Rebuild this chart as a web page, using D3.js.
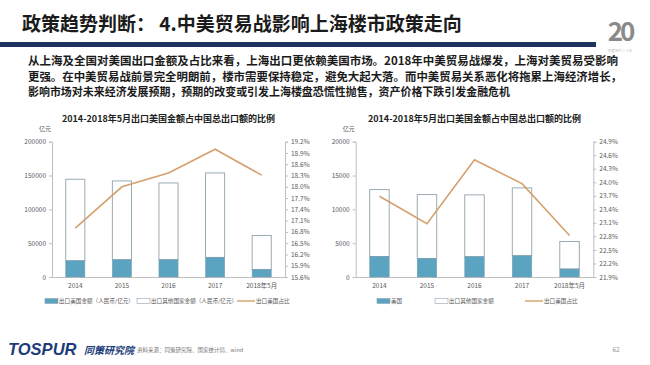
<!DOCTYPE html>
<html>
<head>
<meta charset="utf-8">
<script src="https://cdn.jsdelivr.net/npm/d3@7"></script>
<style>
  body { margin: 0; background: #fff; }
  svg { display: block; font-family: "Noto Sans CJK SC", "Noto Sans", sans-serif; }
</style>
</head>
<body>
<svg id="chart" width="650" height="365"></svg>
<script>
// ---- data
let years = ['2014', '2015', '2016', '2017', '2018年5月']

// 全国 (人民币/亿元)
let cnUS = [24000, 25500, 25500, 29000, 11200]
let cnOther = [120500, 116500, 113500, 124800, 50200]
let cnShare = [16.9, 18.0, 18.37, 19.0, 18.31]
let cnLeftTicks = [0, 50000, 100000, 150000, 200000]
let cnRightTicks = [15.6, 15.9, 16.2, 16.5, 16.8, 17.1, 17.4, 17.7, 18.0, 18.3, 18.6, 18.9, 19.2]

// 上海
let shUS = [3040, 2750, 3000, 3140, 1180]
let shOther = [9880, 9430, 9140, 10030, 4070]
let shShare = [23.69, 23.08, 24.5, 23.97, 22.82]
let shLeftTicks = [0, 5000, 10000, 15000, 20000]
let shRightTicks = [21.9, 22.2, 22.5, 22.8, 23.1, 23.4, 23.7, 24.0, 24.3, 24.6, 24.9]

let textLines = [
	'从上海及全国对美国出口金额及占比来看，上海出口更依赖美国市场。2018年中美贸易战爆发，上海对美贸易受影响',
	'更强。在中美贸易战前景完全明朗前，楼市需要保持稳定，避免大起大落。而中美贸易关系恶化将拖累上海经济增长，',
	'影响市场对未来经济发展预期，预期的改变或引发上海楼盘恐慌性抛售，资产价格下跌引发金融危机'
]
let textWidths = [590, 594, 482]

let svg = d3.select('#chart')

const teal = '#5ba4c1'
const lineCol = '#d5a06e'
const grey = '#595959'

//   ----   header

svg.append('text')
	.attr('x', 22).attr('y', 31)
	.attr('font-size', 19).attr('font-weight', 'bold')
	.attr('fill', '#1b1b1b')
	.text('政策趋势判断： 4.中美贸易战影响上海楼市政策走向')

svg.append('rect')
	.attr('x', 0).attr('y', 42).attr('width', 596).attr('height', 5)
	.attr('fill', '#1d3461')

// logo "20"
svg.append('text')
	.attr('x', 620).attr('y', 41)
	.attr('text-anchor', 'middle')
	.attr('font-size', 26).attr('font-weight', 'bold')
	.attr('fill', '#8a8a8a')
	.attr('letter-spacing', -3)
	.text('20')
svg.append('text')
	.attr('x', 620).attr('y', 51.5)
	.attr('text-anchor', 'middle')
	.attr('font-size', 3.5).attr('fill', '#bbb')
	.text('同策地产二十年')

svg.selectAll('.para').data(textLines).enter().append('text')
	.attr('class', 'para')
	.attr('x', 28)
	.attr('y', (d, i) => 65 + i * 15.5)
	.attr('font-size', 11.5).attr('font-weight', 'bold')
	.attr('fill', '#1b1b1b')
	.attr('textLength', (d, i) => textWidths[i])
	.attr('lengthAdjust', 'spacingAndGlyphs')
	.text(d => d)

//   ----   charts

function drawChart(cfg) {
	let xScale = d3.scaleBand()
		.domain(years)
		.range([cfg.x0, cfg.x1])
		.paddingInner(0.59)
		.paddingOuter(0.295)

	let yL = d3.scaleLinear()
		.domain([cfg.leftTicks[0], cfg.leftTicks[cfg.leftTicks.length - 1]])
		.range([277, 141.7])

	let yR = d3.scaleLinear()
		.domain([cfg.rightTicks[0], cfg.rightTicks[cfg.rightTicks.length - 1]])
		.range([277, 141.7])

	let g = svg.append('g')

	g.append('text')
		.attr('x', (cfg.x0 + cfg.x1) / 2).attr('y', 122)
		.attr('text-anchor', 'middle')
		.attr('font-size', 9).attr('font-weight', 'bold')
		.attr('fill', '#222')
		.text('2014-2018年5月出口美国金额占中国总出口额的比例')

	g.append('text')
		.attr('x', cfg.x0 - 7).attr('y', 131)
		.attr('text-anchor', 'middle')
		.attr('font-size', 6).attr('fill', grey)
		.text('亿元')

	// axes
	let axL = g.append('g')
		.attr('transform', `translate(${cfg.x0},0)`)
		.call(d3.axisLeft(yL).tickValues(cfg.leftTicks).tickSize(3).tickFormat(d3.format('d')))
	let axR = g.append('g')
		.attr('transform', `translate(${cfg.x1},0)`)
		.call(d3.axisRight(yR).tickValues(cfg.rightTicks).tickSize(3).tickFormat(d => d.toFixed(1) + '%'))
	let axB = g.append('g')
		.attr('transform', 'translate(0,277)')
		.call(d3.axisBottom(xScale).tickSize(0).tickPadding(6))

	;[axL, axR, axB].forEach(a => {
		a.selectAll('path,line').attr('stroke', '#bfbfbf')
		a.selectAll('text').attr('fill', grey).attr('font-size', 6.5)
			.attr('font-family', '"Noto Sans CJK SC", sans-serif')
	})

	// bars
	let stack = years.map((y, i) => ({ year: y, us: cfg.us[i], other: cfg.other[i] }))

	g.selectAll('.other').data(stack).enter().append('rect')
		.attr('x', d => xScale(d.year))
		.attr('width', xScale.bandwidth())
		.attr('y', d => yL(d.us + d.other))
		.attr('height', d => yL(d.us) - yL(d.us + d.other))
		.attr('fill', '#fff')
		.attr('stroke', '#8fa3aa').attr('stroke-width', 0.9)

	g.selectAll('.us').data(stack).enter().append('rect')
		.attr('x', d => xScale(d.year))
		.attr('width', xScale.bandwidth())
		.attr('y', d => yL(d.us))
		.attr('height', d => yL(0) - yL(d.us))
		.attr('fill', teal)
		.attr('stroke', '#7f9fab').attr('stroke-width', 0.6)

	let lineGen = d3.line()
		.x((d, i) => xScale(years[i]) + xScale.bandwidth() / 2)
		.y(d => yR(d))

	g.append('path')
		.datum(cfg.share)
		.attr('d', lineGen)
		.attr('fill', 'none')
		.attr('stroke', lineCol).attr('stroke-width', 1.6)

	// legend
	let leg = g.append('g').attr('font-size', 5.6).attr('fill', grey)
	cfg.legend.forEach(l => {
		if (l.type == 'line') {
			leg.append('line')
				.attr('x1', l.x).attr('x2', l.x + 18)
				.attr('y1', 301).attr('y2', 301)
				.attr('stroke', lineCol).attr('stroke-width', 1.4)
		} else {
			leg.append('rect')
				.attr('x', l.x).attr('y', 298.5).attr('width', 13).attr('height', 5)
				.attr('fill', l.type == 'us' ? teal : '#fff')
				.attr('stroke', '#8fa3aa').attr('stroke-width', 0.6)
		}
		leg.append('text')
			.attr('x', l.x + (l.type == 'line' ? 19 : 14)).attr('y', 303)
			.text(l.label)
	})
}

drawChart({
	x0: 52, x1: 285,
	us: cnUS, other: cnOther, share: cnShare,
	leftTicks: cnLeftTicks, rightTicks: cnRightTicks,
	legend: [
		{ type: 'us', x: 45, label: '出口美国金额（人民币/亿元）' },
		{ type: 'other', x: 137, label: '出口其他国家金额（人民币/亿元）' },
		{ type: 'line', x: 237, label: '出口美国占比' }
	]
})

drawChart({
	x0: 355.7, x1: 593.3,
	us: shUS, other: shOther, share: shShare,
	leftTicks: shLeftTicks, rightTicks: shRightTicks,
	legend: [
		{ type: 'us', x: 377, label: '美国' },
		{ type: 'other', x: 435, label: '出口其他国家金额' },
		{ type: 'line', x: 525, label: '出口美国占比' }
	]
})

//   ----   footer

svg.append('text')
	.attr('x', 8).attr('y', 355)
	.attr('font-size', 16.5).attr('font-weight', 'bold').attr('font-style', 'italic')
	.attr('fill', '#1d3d7a')
	.attr('font-family', '"Liberation Sans", Arial, sans-serif')
	.text('TOSPUR')
svg.append('text')
	.attr('x', 84).attr('y', 354)
	.attr('font-size', 10).attr('font-weight', 'bold').attr('font-style', 'italic')
	.attr('fill', '#1d3d7a')
	.text('同策研究院')
svg.append('text')
	.attr('x', 137).attr('y', 352)
	.attr('font-size', 5.5).attr('fill', '#777')
	.text('资料来源：同策研究院、国家统计局、wind')
svg.append('text')
	.attr('x', 616).attr('y', 352)
	.attr('text-anchor', 'middle')
	.attr('font-size', 6.5).attr('fill', '#999')
	.text('62')
</script>
</body>
</html>
